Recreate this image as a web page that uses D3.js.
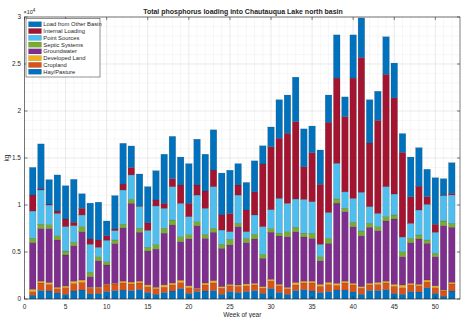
<!DOCTYPE html>
<html><head><meta charset="utf-8">
<script src="https://cdn.jsdelivr.net/npm/d3@7"></script>
<style>body{margin:0;background:#fff}svg{display:block}text{font-family:"Liberation Sans",Arial,Helvetica,sans-serif;fill:#262626}</style>
</head><body><svg id="c" width="461" height="318"></svg>
<script>
// ---- data (kg per week) ----
const weeks = d3.range(1, 53);
const seriesNames = ["Hay/Pasture","Cropland","Developed Land","Groundwater","Septic Systems","Point Sources","Internal Loading","Load from Other Basin"];
const seriesColors = ["#0072BD","#D95319","#EDB120","#7E2F8E","#77AC30","#4DBEEE","#A2142F","#0072BD"];
const hayPasture = [400,900,850,650,500,850,960,550,600,800,880,950,900,1000,700,500,700,850,1100,600,780,850,900,500,800,700,800,900,600,1100,700,500,900,1000,850,700,800,950,950,750,500,900,900,1000,600,500,800,750,1200,600,300,850];
const cropland = [370,800,700,450,700,800,810,600,550,700,720,750,700,700,600,600,550,650,650,600,270,650,800,650,600,650,600,600,550,800,700,600,600,700,850,650,750,500,750,750,650,600,650,700,750,700,700,650,600,600,550,750];
const developedLand = [280,200,200,150,180,250,250,90,100,80,80,200,200,200,200,150,250,200,250,200,90,200,250,160,150,140,200,170,160,200,150,140,250,200,200,210,220,220,200,170,160,170,220,200,210,290,170,160,220,200,110,170];
const groundwater = [4950,5600,5750,5030,3300,3770,5140,1130,2830,2040,4220,5650,8380,5200,3600,4050,5500,6170,4100,5000,6660,4750,5150,4080,4190,6210,4400,4710,3020,5000,5150,5390,5410,4700,4550,2520,4150,8530,7390,6030,5420,5960,5500,6400,6950,3010,4320,4820,3900,3100,6840,5860];
const septicSystems = [460,450,400,450,420,360,540,470,420,350,380,400,420,420,400,500,520,530,530,450,430,430,420,430,610,350,450,500,420,400,300,530,470,400,540,420,530,450,360,460,500,420,430,460,430,530,460,420,360,360,500,420];
const pointSources = [2900,3650,2100,2370,2600,1770,1240,2980,1000,2270,990,3650,2600,2330,1800,4100,2130,3550,3550,1910,2830,2770,4430,1520,810,3010,710,2060,2950,2000,3700,3020,3010,3600,3360,1320,2750,3790,1750,2540,4120,1770,1410,3190,2230,1570,1600,2670,3790,2240,2700,3020];
const internalLoading = [1700,100,100,260,810,360,710,560,780,490,180,630,800,50,800,630,530,850,1950,1420,1070,1840,1770,1600,1940,1070,2310,2460,6660,6700,6400,7450,8220,3470,5210,6380,9600,9060,8000,12800,14350,6780,9890,11950,10230,9000,2830,2530,810,850,60,170];
const otherBasin = [2940,4800,2600,3840,3540,4570,1550,3820,4020,1570,3550,4330,2280,3400,3850,3120,5220,4500,2970,4220,4870,3910,4280,4460,4600,2270,2930,3300,1940,2100,4100,4070,4740,4030,2840,3650,2900,4600,2100,4600,4200,4600,3100,4000,3700,2000,4220,4100,2920,4950,1740,3260];
const seriesValues = [hayPasture,cropland,developedLand,groundwater,septicSystems,pointSources,internalLoading,otherBasin];
const xTicks = [0,5,10,15,20,25,30,35,40,45,50];
const yTicks = [0,5000,10000,15000,20000,25000,30000];
const yTickLabels = ["0","0.5","1","1.5","2","2.5","3"];
const titleText = "Total phosphorus loading into Chautauqua Lake north basin";
const xLabel = "Week of year";
const yLabel = "kg";

// ---- layout ----
const L = 24.5, R = 460, T = 17, B = 299;
const svg = d3.select("#c");
const x = d3.scaleLinear().domain([0, 53]).range([L, R]);
const y = d3.scaleLinear().domain([0, 30000]).range([B, T]);
const ink = "#262626";

// grid (minor then major)
const g = svg.append("g");
d3.range(1, 53).filter(v => v % 5 !== 0).forEach(v => {
  g.append("line").attr("x1", x(v)).attr("x2", x(v)).attr("y1", T).attr("y2", B).attr("stroke", "#efefef").attr("stroke-width", 0.5);
});
d3.range(1000, 30000, 1000).filter(v => v % 5000 !== 0).forEach(v => {
  g.append("line").attr("x1", L).attr("x2", R).attr("y1", y(v)).attr("y2", y(v)).attr("stroke", "#efefef").attr("stroke-width", 0.5);
});
xTicks.forEach(v => g.append("line").attr("x1", x(v)).attr("x2", x(v)).attr("y1", T).attr("y2", B).attr("stroke", "#dcdcdc").attr("stroke-width", 0.6));
yTicks.forEach(v => g.append("line").attr("x1", L).attr("x2", R).attr("y1", y(v)).attr("y2", y(v)).attr("stroke", "#dcdcdc").attr("stroke-width", 0.6));

// stacked bars
const table = weeks.map((w, i) => {
  const o = { week: w };
  seriesNames.forEach((n, k) => o[n] = seriesValues[k][i]);
  return o;
});
const stacked = d3.stack().keys(seriesNames)(table);
const bw = 0.8 * (x(1) - x(0));
svg.append("g").selectAll("g").data(stacked).join("g")
  .attr("fill", (d, k) => seriesColors[k])
  .selectAll("rect").data(d => d).join("rect")
  .attr("x", d => x(d.data.week) - bw / 2)
  .attr("width", bw)
  .attr("y", d => y(d[1]))
  .attr("height", d => y(d[0]) - y(d[1]))
  .attr("stroke", "rgba(40,40,40,0.35)").attr("stroke-width", 0.4);

// axes box
const ax = svg.append("g");
ax.append("rect").attr("x", L).attr("y", T).attr("width", R - L).attr("height", B - T).attr("fill", "none").attr("stroke", ink).attr("stroke-width", 0.6);
xTicks.forEach(v => {
  ax.append("line").attr("x1", x(v)).attr("x2", x(v)).attr("y1", B).attr("y2", B - 3).attr("stroke", ink).attr("stroke-width", 0.6);
  ax.append("line").attr("x1", x(v)).attr("x2", x(v)).attr("y1", T).attr("y2", T + 3).attr("stroke", ink).attr("stroke-width", 0.6);
  ax.append("text").attr("x", x(v)).attr("y", 309).attr("text-anchor", "middle").attr("font-size", 6.5).text(v);
});
yTicks.forEach((v, i) => {
  ax.append("line").attr("x1", L).attr("x2", L + 3).attr("y1", y(v)).attr("y2", y(v)).attr("stroke", ink).attr("stroke-width", 0.6);
  ax.append("line").attr("x1", R).attr("x2", R - 3).attr("y1", y(v)).attr("y2", y(v)).attr("stroke", ink).attr("stroke-width", 0.6);
  ax.append("text").attr("x", L - 3.5).attr("y", y(v) + 2.3).attr("text-anchor", "end").attr("font-size", 6.5).text(yTickLabels[i]);
});
// exponent
const ex = ax.append("text").attr("x", L - 1).attr("y", 14).attr("font-size", 5.5);
ex.append("tspan").text("\u00d710");
ex.append("tspan").attr("dy", -2.5).attr("font-size", 4.5).text("4");

// labels
ax.append("text").attr("x", (L + R) / 2).attr("y", 316.5).attr("text-anchor", "middle").attr("font-size", 6.5).text(xLabel);
ax.append("text").attr("transform", `translate(9,${(T + B) / 2}) rotate(-90)`).attr("text-anchor", "middle").attr("font-size", 6.5).text(yLabel);
const tt = svg.append("text").attr("x", 243).attr("y", 13.5).attr("text-anchor", "middle").attr("font-size", 7).attr("font-weight", "bold").attr("fill", "#000").text(titleText);
const tw = tt.node().getComputedTextLength();
tt.attr("font-size", 7 * 200 / tw);

// legend
const lg = svg.append("g");
lg.append("rect").attr("x", 26).attr("y", 18.5).attr("width", 74).attr("height", 58.5).attr("fill", "#fff").attr("stroke", ink).attr("stroke-width", 0.5);
const order = d3.range(seriesNames.length).reverse();
order.forEach((k, r) => {
  const cy = 24.3 + r * 6.77;
  lg.append("rect").attr("x", 28.5).attr("y", cy - 2.6).attr("width", 13).attr("height", 5.2).attr("fill", seriesColors[k]).attr("stroke", "rgba(40,40,40,0.4)").attr("stroke-width", 0.3);
  const t = lg.append("text").attr("x", 43.3).attr("y", cy + 2).attr("font-size", 5.8).text(seriesNames[k]);
});
</script></body></html>
